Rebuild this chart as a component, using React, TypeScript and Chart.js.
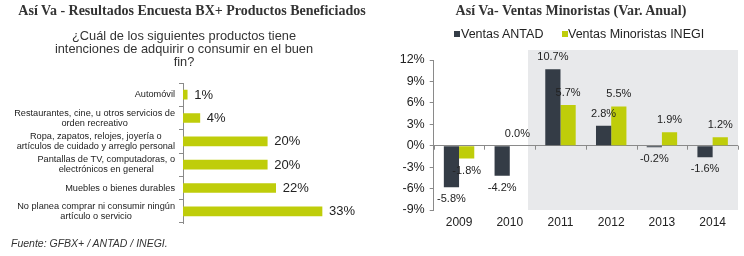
import React, { useEffect, useRef } from "react";
import { Chart, registerables } from "chart.js";
Chart.register(...registerables);

// ---------- Data ----------
const SURVEY_LABELS: string[][] = [
  ["Automóvil"],
  ["Restaurantes, cine, u otros servicios de", "orden recreativo"],
  ["Ropa, zapatos, relojes, joyería o", "artículos de cuidado y arreglo personal"],
  ["Pantallas de TV, computadoras, o", "electrónicos en general"],
  ["Muebles o bienes durables"],
  ["No planea comprar ni consumir ningún", "artículo o servicio"],
];
const SURVEY_VALUES = [1, 4, 20, 20, 22, 33];

const YEARS = ["2009", "2010", "2011", "2012", "2013", "2014"];
const ANTAD = [-5.8, -4.2, 10.7, 2.8, -0.2, -1.6];
const INEGI = [-1.8, 0.0, 5.7, 5.5, 1.9, 1.2];
const Y_MIN = -9;
const Y_MAX = 12;
const Y_STEP = 3;
const SHADE_START = 1.36; // category units where the shaded panel begins

const GREEN = "#bfcd0a";
const DARK = "#343c46";
const SHADE = "#e8e9eb";
const AXIS = "#8a8a8a";
const TEXT = "#222";
const SANS = "'Liberation Sans', Arial, sans-serif";

function SurveyChart() {
  const ref = useRef<HTMLCanvasElement>(null);
  useEffect(() => {
    const labelPlugin = {
      id: "surveyLabels",
      afterDatasetsDraw(chart: any) {
        const ctx = chart.ctx;
        const ys = chart.scales.y;
        const xs = chart.scales.x;
        const area = chart.chartArea;
        ctx.save();
        ctx.fillStyle = TEXT;
        ctx.textBaseline = "middle";
        // category labels: block right-aligned, lines centred within block
        ctx.font = `9.2px ${SANS}`;
        ctx.textAlign = "center";
        SURVEY_LABELS.forEach((lines, i) => {
          const yc = ys.getPixelForValue(i);
          const w = Math.max(...lines.map((l) => ctx.measureText(l).width));
          const cx = area.left - 8 - w / 2;
          const lh = 10;
          const y0 = yc - ((lines.length - 1) * lh) / 2;
          lines.forEach((l, j) => ctx.fillText(l, cx, y0 + j * lh));
        });
        // value labels
        ctx.font = `13px ${SANS}`;
        ctx.textAlign = "left";
        SURVEY_VALUES.forEach((v, i) => {
          ctx.fillText(`${v}%`, xs.getPixelForValue(v) + 7, ys.getPixelForValue(i) + 0.5);
        });
        ctx.restore();
      },
    };
    const chart = new Chart(ref.current!, {
      type: "bar",
      data: {
        labels: SURVEY_LABELS.map((l) => l.join(" ")),
        datasets: [{ data: SURVEY_VALUES, backgroundColor: GREEN, barThickness: 9 }],
      },
      options: {
        indexAxis: "y",
        responsive: false,
        animation: false,
        layout: { padding: { top: 83, bottom: 33, left: 0, right: 20.5 } },
        plugins: { legend: { display: false }, tooltip: { enabled: false }, title: { display: false } },
        scales: {
          x: { display: false, min: 0, max: 40 },
          y: {
            afterFit: (s: any) => {
              s.width = 183;
            },
            grid: { drawOnChartArea: false, tickLength: 4, color: AXIS, offset: true },
            border: { color: AXIS },
            ticks: { display: false },
          },
        },
      },
      plugins: [labelPlugin],
    } as any);
    return () => chart.destroy();
  }, []);
  return (
    <canvas
      ref={ref}
      width={372}
      height={256}
      style={{ position: "absolute", left: 0, top: 0, width: 372, height: 256 }}
    />
  );
}

function SalesChart() {
  const ref = useRef<HTMLCanvasElement>(null);
  useEffect(() => {
    const shadePlugin = {
      id: "shade",
      beforeDraw(chart: any) {
        const ctx = chart.ctx;
        const xs = chart.scales.x;
        const area = chart.chartArea;
        const cw = xs.getPixelForValue(1) - xs.getPixelForValue(0);
        const x0 = xs.getPixelForValue(0) + SHADE_START * cw;
        ctx.save();
        ctx.fillStyle = SHADE;
        ctx.fillRect(x0, area.top - 10, area.right - x0, area.bottom - area.top + 10);
        ctx.restore();
      },
      afterDatasetsDraw(chart: any) {
        const ctx = chart.ctx;
        const xs = chart.scales.x;
        const ys = chart.scales.y;
        const cw = xs.getPixelForValue(1) - xs.getPixelForValue(0);
        const y0 = ys.getPixelForValue(0);
        ctx.save();
        // tick marks on the zero line
        ctx.strokeStyle = AXIS;
        ctx.lineWidth = 1;
        for (let i = 0; i <= YEARS.length; i++) {
          const x = Math.round(xs.getPixelForValue(0) - cw / 2 + i * cw) + 0.5;
          ctx.beginPath();
          ctx.moveTo(x, y0);
          ctx.lineTo(x, y0 + 4);
          ctx.stroke();
        }
        // value labels
        ctx.fillStyle = TEXT;
        ctx.font = `11px ${SANS}`;
        ctx.textAlign = "center";
        ctx.textBaseline = "middle";
        chart.data.datasets.forEach((ds: any, di: number) => {
          const meta = chart.getDatasetMeta(di);
          ds.data.forEach((v: number, i: number) => {
            const bar = meta.data[i];
            const y = v >= 0 ? bar.y - 12 : bar.y + 12;
            ctx.fillText(`${v.toFixed(1)}%`, bar.x, y);
          });
        });
        ctx.restore();
      },
    };
    const chart = new Chart(ref.current!, {
      type: "bar",
      data: {
        labels: YEARS,
        datasets: [
          { label: "Ventas ANTAD", data: ANTAD, backgroundColor: DARK, categoryPercentage: 0.6, barPercentage: 1 },
          { label: "Ventas Minoristas INEGI", data: INEGI, backgroundColor: GREEN, categoryPercentage: 0.6, barPercentage: 1 },
        ],
      },
      options: {
        responsive: false,
        animation: false,
        layout: { padding: { top: 60, bottom: 20, left: 0, right: 6 } },
        plugins: { legend: { display: false }, tooltip: { enabled: false }, title: { display: false } },
        scales: {
          x: {
            afterFit: (s: any) => {
              s.height = 26;
            },
            grid: { display: false, drawTicks: false },
            border: { display: false },
            ticks: { color: TEXT, font: { family: SANS, size: 12 }, padding: 5 },
          },
          y: {
            min: Y_MIN,
            max: Y_MAX,
            afterFit: (s: any) => {
              s.width = 61.7;
            },
            grid: {
              color: (c: any) => (c.tick && c.tick.value === 0 ? AXIS : "rgba(0,0,0,0)"),
              tickColor: AXIS,
              tickLength: 4,
            },
            border: { color: AXIS },
            ticks: {
              stepSize: Y_STEP,
              color: TEXT,
              font: { family: SANS, size: 12.5 },
              padding: 5,
              callback: (v: any) => `${v}%`,
            },
          },
        },
      },
      plugins: [shadePlugin],
    } as any);
    return () => chart.destroy();
  }, []);
  return (
    <canvas
      ref={ref}
      width={372}
      height={256}
      style={{ position: "absolute", left: 372, top: 0, width: 372, height: 256 }}
    />
  );
}

export default function App() {
  const serif: React.CSSProperties = {
    position: "absolute",
    fontFamily: "'Liberation Serif', 'Times New Roman', serif",
    fontWeight: "bold",
    fontSize: 14,
    color: "#333",
    whiteSpace: "nowrap",
    textAlign: "center",
    lineHeight: "14px",
  };
  const sq = (c: string, left: number): React.CSSProperties => ({
    position: "absolute",
    left,
    top: 31,
    width: 6,
    height: 6,
    background: c,
  });
  const legText = (left: number): React.CSSProperties => ({
    position: "absolute",
    left,
    top: 27,
    fontFamily: SANS,
    fontSize: 12.5,
    lineHeight: "14px",
    color: TEXT,
    whiteSpace: "nowrap",
  });
  return (
    <div
      style={{
        position: "fixed",
        left: 0,
        top: 0,
        width: 744,
        height: 256,
        background: "#fff",
        overflow: "hidden",
      }}
    >
      <SurveyChart />
      <SalesChart />
      <div style={{ ...serif, left: 0, width: 384, top: 4 }}>
        Así Va - Resultados Encuesta BX+ Productos Beneficiados
      </div>
      <div style={{ ...serif, left: 371, width: 400, top: 4 }}>Así Va- Ventas Minoristas (Var. Anual)</div>
      <div
        style={{
          position: "absolute",
          left: 34,
          width: 300,
          top: 28.5,
          textAlign: "center",
          fontFamily: SANS,
          fontSize: 12.8,
          lineHeight: "13px",
          color: "#333",
        }}
      >
        ¿Cuál de los siguientes productos tiene
        <br />
        intenciones de adquirir o consumir en el buen
        <br />
        fin?
      </div>
      <div style={sq(DARK, 454)} />
      <div style={legText(461)}>Ventas ANTAD</div>
      <div style={sq(GREEN, 562)} />
      <div style={legText(568)}>Ventas Minoristas INEGI</div>
      <div
        style={{
          position: "absolute",
          left: 11,
          top: 237,
          fontFamily: SANS,
          fontStyle: "italic",
          fontSize: 10.5,
          lineHeight: "12px",
          color: "#333",
          whiteSpace: "nowrap",
        }}
      >
        Fuente: GFBX+ / ANTAD / INEGI.
      </div>
    </div>
  );
}
